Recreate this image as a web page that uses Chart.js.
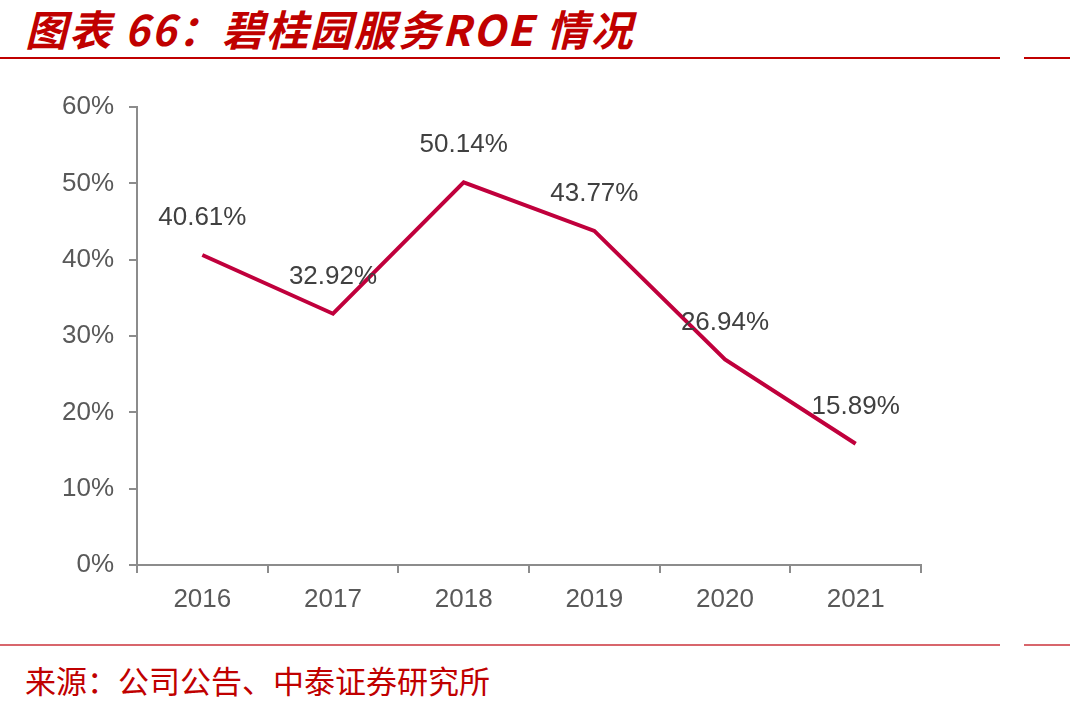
<!DOCTYPE html>
<html>
<head>
<meta charset="utf-8">
<script src="https://cdn.jsdelivr.net/npm/chart.js@4"></script>
<style>
  body { margin: 0; background: #fff; }
  #wrap { position: relative; width: 1070px; height: 709px; overflow: hidden; }
  #title { position: absolute; left: 25px; top: -3px; font-family: "Noto Sans CJK SC", sans-serif; font-size: 42px; font-weight: bold; font-style: italic; color: #C00000; letter-spacing: 2px; white-space: nowrap; }
  .rule { position: absolute; height: 2px; }
  #source { position: absolute; left: 25px; top: 657px; font-family: "Noto Sans CJK SC", sans-serif; font-size: 31px; color: #C00000; white-space: nowrap; }
  canvas { position: absolute; left: 0; top: 0; }
</style>
</head>
<body>
<div id="wrap">
  <div id="title">图表 66：碧桂园服务ROE 情况</div>
  <div class="rule" style="left:0;top:57px;width:1000px;background:#C00000"></div>
  <div class="rule" style="left:1024px;top:57px;width:46px;background:#C00000"></div>
  <div class="rule" style="left:0;top:644px;width:1000px;background:#D8666C"></div>
  <div class="rule" style="left:1024px;top:644px;width:46px;background:#D8666C"></div>
  <div id="source">来源：公司公告、中泰证券研究所</div>
  <canvas id="roe-chart" width="1070" height="709"></canvas>
</div>
<script>
const years = ['2016', '2017', '2018', '2019', '2020', '2021'];
const roeValues = [40.61, 32.92, 50.14, 43.77, 26.94, 15.89];
const yTicks = [0, 10, 20, 30, 40, 50, 60];

const axisGrey = '#8c8c8c';
const lineRed = '#C0003C';
const fontFam = '"Liberation Sans", Arial, sans-serif';

// draws the value above each point
const valueLabels = {
    id: 'valueLabels',
    afterDatasetsDraw(chart) {
        const ctx = chart.ctx;
        const meta = chart.getDatasetMeta(0);
        ctx.save();
        ctx.font = '26px ' + fontFam;
        ctx.fillStyle = '#404040';
        ctx.textAlign = 'center';
        ctx.textBaseline = 'middle';
        meta.data.forEach((pt, i) => {
            ctx.fillText(roeValues[i].toFixed(2) + '%', pt.x, pt.y - 37);
        });
        ctx.restore();
    }
};

const ctx = document.getElementById('roe-chart').getContext('2d');
new Chart(ctx, {
    type: 'line',
    data: {
        labels: years,
        datasets: [{
            data: roeValues,
            borderColor: lineRed,
            borderWidth: 4,
            pointRadius: 0,
            tension: 0,
            fill: false
        }]
    },
    options: {
        responsive: false,
        animation: false,
        layout: { padding: { top: 107, right: 149, bottom: 94, left: 0 } },
        plugins: { legend: { display: false }, tooltip: { enabled: false } },
        scales: {
            x: {
                offset: true,
                grid: { offset: true, drawOnChartArea: false, color: axisGrey, lineWidth: 2, tickLength: 8 },
                border: { color: axisGrey, width: 2 },
                ticks: { color: '#595959', font: { size: 26, family: fontFam }, padding: 11, maxRotation: 0 },
                afterFit(scale) { scale.height = 50; }
            },
            y: {
                min: 0,
                max: 60,
                afterBuildTicks(scale) { scale.ticks = yTicks.map(v => ({ value: v })); },
                grid: { drawOnChartArea: false, color: axisGrey, lineWidth: 2, tickLength: 8 },
                border: { color: axisGrey, width: 2 },
                ticks: {
                    color: '#595959',
                    font: { size: 26, family: fontFam },
                    padding: 15,
                    callback: v => v + '%'
                },
                afterFit(scale) { scale.width = 137; }
            }
        }
    },
    plugins: [valueLabels]
});
</script>
</body>
</html>
